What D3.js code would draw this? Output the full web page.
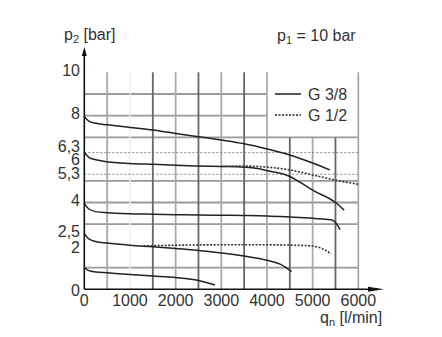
<!DOCTYPE html>
<html>
<head>
<meta charset="utf-8">
<script src="https://cdn.jsdelivr.net/npm/d3@7"></script>
<style>
  html, body { margin: 0; padding: 0; background: #fff; }
  svg { display: block; font-family: "Liberation Sans", Arial, sans-serif; }
  .lbl { font-size: 16px; fill: #333; }
</style>
</head>
<body>
<div id="chart"></div>
<script>
// ===== Daten =====
// Durchfluss q_n [l/min], Ausgangsdruck p2 [bar]
const g38_8 = [[0, 7.95], [100, 7.75], [250, 7.65], [500, 7.58], [1000, 7.46], [1500, 7.34], [2000, 7.18], [2500, 7.03], [3000, 6.88], [3500, 6.71], [4000, 6.47], [4500, 6.19], [5000, 5.82], [5380, 5.5]];
const g38_6 = [[0, 6.32], [100, 6.08], [250, 5.97], [500, 5.88], [1000, 5.8], [1500, 5.76], [2000, 5.72], [2500, 5.68], [3000, 5.66], [3500, 5.63], [3800, 5.57], [4000, 5.47], [4500, 5.2], [4750, 4.9], [5000, 4.57], [5500, 4.0], [5690, 3.65]];
const g38_4 = [[0, 3.96], [100, 3.7], [250, 3.58], [500, 3.53], [1000, 3.48], [1500, 3.46], [2000, 3.44], [2500, 3.42], [3000, 3.41], [3500, 3.4], [4000, 3.38], [4500, 3.33], [5000, 3.27], [5400, 3.2], [5500, 3.08], [5600, 2.75]];
const g38_2 = [[0, 2.58], [100, 2.32], [250, 2.2], [500, 2.13], [1000, 2.03], [1500, 1.96], [2000, 1.88], [2500, 1.79], [3000, 1.67], [3500, 1.53], [4000, 1.34], [4300, 1.15], [4540, 0.82]];
const g38_1 = [[0, 1.0], [100, 0.86], [250, 0.8], [500, 0.76], [1000, 0.68], [1500, 0.61], [2000, 0.54], [2500, 0.41], [2860, 0.2]];

const g12_6 = [[3000, 5.66], [3500, 5.68], [4000, 5.63], [4500, 5.5], [5000, 5.27], [5500, 5.03], [6000, 4.84]];
const g12_2 = [[1300, 2.0], [2000, 2.03], [3000, 2.05], [4000, 2.05], [4800, 2.02], [5100, 1.95], [5300, 1.78], [5400, 1.62]];

const seriesG38 = [g38_8, g38_6, g38_4, g38_2, g38_1];
const seriesG12 = [g12_6, g12_2];

// Achsen-Beschriftungen
const xTicks = [0, 1000, 2000, 3000, 4000, 5000, 6000];
const yTicks = [0, 2, 2.5, 4, 5.3, 6, 6.3, 8, 10];
const hGrid = [1, 3, 4, 5, 7, 8, 9];
const refLines = [5.3, 6.3];
const vGridDark = [1500, 2500, 3500, 4500, 5500];
const vGridLight = [500, 2000, 3000, 4000, 5000, 6000];
const legendItems = ['G 3/8', 'G 1/2'];

// ===== SVG =====
const width = 442, height = 337;
const svg = d3.select('#chart').append('svg')
  .attr('width', width)
  .attr('height', height);

const x = d3.scaleLinear().domain([0, 6000]).range([84.3, 358.3]);
const y = d3.scaleLinear().domain([0, 10]).range([289.3, 72.3]);

// Legendenfeld: rechts oben bleibt frei (4000..6000, 7..10)
const inLegend = (q, p) => q > 4000 && q < 6000 && p > 7;

// Gitter horizontal
svg.append('g').selectAll('line')
  .data(hGrid)
  .enter().append('line')
  .attr('x1', x(0))
  .attr('x2', d => d > 7 ? x(4000) : x(6000))
  .attr('y1', d => y(d))
  .attr('y2', d => y(d))
  .attr('stroke', '#9a9a9a')
  .attr('stroke-width', 1.8);

// Gitter vertikal
function vLines(values, color) {
  svg.append('g').selectAll('line')
    .data(values)
    .enter().append('line')
    .attr('x1', d => x(d))
    .attr('x2', d => x(d))
    .attr('y1', y(0))
    .attr('y2', d => inLegend(d, 8) ? y(7) : y(10))
    .attr('stroke', color)
    .attr('stroke-width', 1.8);
}
vLines(vGridLight, '#aaa');
vLines(vGridDark, '#666');

// blasse Linie bei 1000
svg.append('line')
  .attr('x1', x(1000)).attr('x2', x(1000))
  .attr('y1', y(0)).attr('y2', y(10))
  .attr('stroke', '#f0f0f0')
  .attr('stroke-width', 1.5);

// gestrichelte Referenzlinien 6,3 und 5,3
svg.append('g').selectAll('line')
  .data(refLines)
  .enter().append('line')
  .attr('x1', x(0))
  .attr('x2', x(6000))
  .attr('y1', d => y(d))
  .attr('y2', d => y(d))
  .attr('stroke', '#777')
  .attr('stroke-width', 0.9)
  .attr('stroke-dasharray', '2,2');

// Kennlinien
const line = d3.line()
  .x(d => x(d[0]))
  .y(d => y(d[1]))
  .curve(d3.curveMonotoneX);

svg.append('g').selectAll('path')
  .data(seriesG38)
  .enter().append('path')
  .attr('d', line)
  .attr('fill', 'none')
  .attr('stroke', '#222')
  .attr('stroke-width', 1.5);

svg.append('g').selectAll('path')
  .data(seriesG12)
  .enter().append('path')
  .attr('d', line)
  .attr('fill', 'none')
  .attr('stroke', '#333')
  .attr('stroke-width', 1.6)
  .attr('stroke-dasharray', '2,1.5');

// Achsen mit Pfeilen
svg.append('line')
  .attr('x1', x(0)).attr('x2', x(0))
  .attr('y1', y(0)).attr('y2', 52)
  .attr('stroke', '#111').attr('stroke-width', 1.6);
svg.append('path')
  .attr('d', `M${x(0) - 2.5},56 L${x(0)},47 L${x(0) + 2.5},56 Z`)
  .attr('fill', '#111');

svg.append('line')
  .attr('x1', x(0)).attr('x2', 378)
  .attr('y1', y(0)).attr('y2', y(0))
  .attr('stroke', '#111').attr('stroke-width', 1.6);
svg.append('path')
  .attr('d', `M368,${y(0) - 2.5} L384,${y(0)} L368,${y(0) + 2.5} Z`)
  .attr('fill', '#111');

// Tick-Beschriftungen
const fmt = d => String(d).replace('.', ',');
// Grundlinien-Versatz je Wert (eng beieinander liegende Werte wie im Original)
const yOffset = { 0: 7, 2: 7, 2.5: 2, 6: 5.5, 6.3: -0.5, 5.3: 5 };

svg.append('g').selectAll('text')
  .data(xTicks)
  .enter().append('text')
  .attr('class', 'lbl')
  .attr('x', d => x(d))
  .attr('y', 306)
  .attr('text-anchor', 'middle')
  .text(d => d);

svg.append('g').selectAll('text')
  .data(yTicks)
  .enter().append('text')
  .attr('class', 'lbl')
  .attr('x', 80)
  .attr('y', d => y(d) + (d in yOffset ? yOffset[d] : 3.5))
  .attr('text-anchor', 'end')
  .text(fmt);

// Achsentitel
const tY = svg.append('text').attr('class', 'lbl').attr('x', 64).attr('y', 40);
tY.append('tspan').text('p');
tY.append('tspan').attr('font-size', 11).attr('dy', 3).text('2');
tY.append('tspan').attr('dy', -3).text(' [bar]');

const tX = svg.append('text').attr('class', 'lbl').attr('x', 320).attr('y', 323);
tX.append('tspan').text('q');
tX.append('tspan').attr('font-size', 11).attr('dy', 3).text('n');
tX.append('tspan').attr('dy', -3).text(' [l/min]');

const tP = svg.append('text').attr('class', 'lbl').attr('x', 277).attr('y', 41);
tP.append('tspan').text('p');
tP.append('tspan').attr('font-size', 11).attr('dy', 3).text('1');
tP.append('tspan').attr('dy', -3).text(' = 10 bar');

// Legende
const legend = svg.append('g').selectAll('g')
  .data(legendItems)
  .enter().append('g')
  .attr('transform', (d, i) => `translate(275,${94 + i * 21})`);

legend.append('line')
  .attr('x1', 0).attr('x2', 26)
  .attr('stroke', '#222')
  .attr('stroke-width', (d, i) => i === 0 ? 1.5 : 1.4)
  .attr('stroke-dasharray', (d, i) => i === 0 ? null : '2,1.5');

legend.append('text')
  .attr('class', 'lbl')
  .attr('x', 33)
  .attr('y', 6)
  .text(d => d);
</script>
</body>
</html>
